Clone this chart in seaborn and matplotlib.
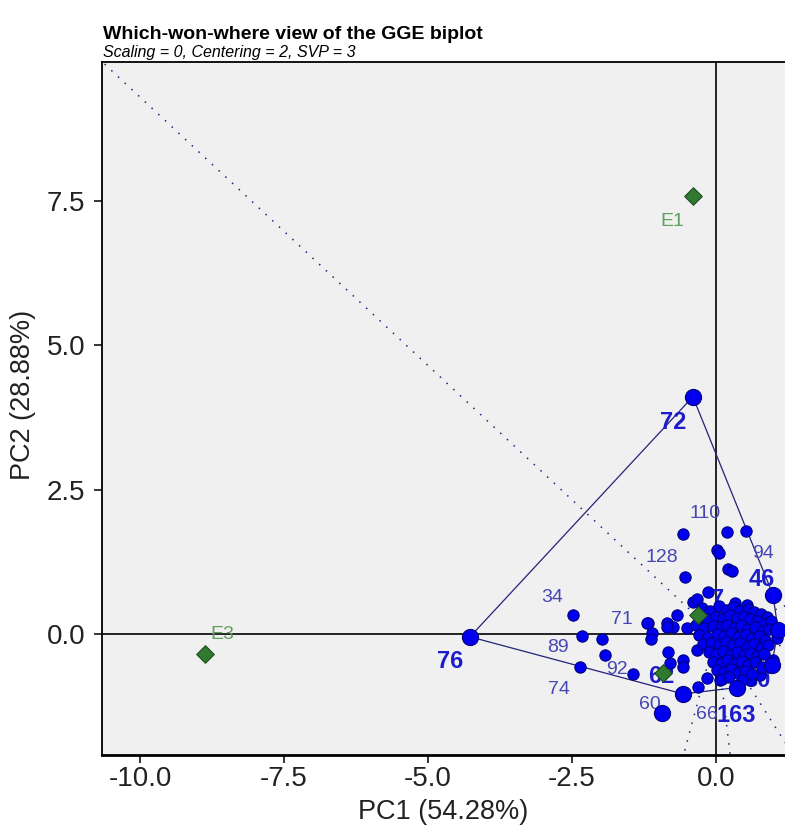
import numpy as np
import pandas as pd
import matplotlib
matplotlib.use("Agg")
import matplotlib.pyplot as plt
import seaborn as sns

# ---------------- data ----------------
# labelled genotypes (PC1, PC2)
geno_names = ["72", "76", "46", "45", "30", "163", "62", "110", "94", "128",
              "34", "71", "89", "74", "92", "60", "7", "66"]
geno_pc1 = [-0.40, -4.27, 0.99, 1.08, 0.97, 0.36, -0.57, 0.19, 0.52, -0.54,
            -2.48, -1.20, -2.33, -2.36, -1.44, -0.94, -0.14, -0.31]
geno_pc2 = [4.11, -0.05, 0.68, 0.07, -0.54, -0.93, -1.04, 1.76, 1.78, 0.99,
            0.33, 0.19, -0.03, -0.57, -0.69, -1.37, 0.73, -0.92]
# vertex genotypes (winners), in polygon order
hull_order = ["72", "46", "45", "30", "163", "62", "76"]
bold_labels = ["72", "76", "46", "30", "163", "62", "7"]

# other (unlabelled) genotypes
other_pc1 = [-0.57, 0.02, 0.05, 0.21, 0.28, -0.40, -0.68, -0.85, -1.18, -1.11, -1.13,
             -0.75, -0.50, -0.24, 1.06, 1.06, 0.99, 0.94, 0.76, 0.59, 0.07, -0.16,
             -0.33, -0.57, -0.57, -0.83, -1.98, -1.93, -0.33, -0.85, -0.80, 0.33, 0.54,
             -0.25, -0.10, 0.05, 0.18, 0.30, 0.42, 0.55, 0.66, 0.78, 0.88,
             -0.28, -0.15, 0.00, 0.12, 0.24, 0.36, 0.48, 0.60, 0.72, 0.84, 0.95,
             -0.35, -0.20, -0.05, 0.08, 0.20, 0.32, 0.44, 0.56, 0.68, 0.80, 0.92,
             -0.30, -0.15, 0.02, 0.14, 0.27, 0.38, 0.50, 0.62, 0.74, 0.86,
             -0.22, -0.08, 0.06, 0.18, 0.30, 0.42, 0.54, 0.66, 0.78, 0.90,
             -0.12, 0.00, 0.12, 0.24, 0.36, 0.48, 0.60, 0.72, 0.84,
             -0.05, 0.08, 0.20, 0.32, 0.44, 0.56, 0.68, 0.80,
             0.02, 0.14, 0.26, 0.38, 0.50, 0.62, 0.10, 0.22, 0.46]
other_pc2 = [1.73, 1.46, 1.40, 1.13, 1.09, 0.55, 0.33, 0.19, 0.19, 0.02, -0.09,
             0.12, 0.10, 0.07, 0.10, -0.07, -0.45, -0.57, -0.71, -0.80, -0.80, -0.76,
             -0.28, -0.45, -0.57, -0.31, -0.09, -0.36, 0.60, 0.12, -0.50, 0.54, 0.50,
             0.45, 0.40, 0.48, 0.42, 0.47, 0.40, 0.44, 0.38, 0.35, 0.30,
             0.30, 0.25, 0.30, 0.28, 0.33, 0.27, 0.30, 0.25, 0.22, 0.18, 0.22,
             0.15, 0.10, 0.14, 0.12, 0.16, 0.10, 0.15, 0.08, 0.12, 0.05, 0.08,
             -0.02, -0.05, 0.00, -0.03, 0.02, -0.06, -0.02, -0.07, -0.03, -0.10,
             -0.18, -0.15, -0.20, -0.14, -0.19, -0.16, -0.22, -0.18, -0.24, -0.20,
             -0.32, -0.35, -0.30, -0.36, -0.31, -0.37, -0.33, -0.39, -0.35,
             -0.48, -0.50, -0.46, -0.52, -0.47, -0.53, -0.49, -0.58,
             -0.62, -0.66, -0.61, -0.68, -0.64, -0.70, -0.78, -0.75, -0.79]

# environments
env_names = ["E1", "E2", "E3", "E4"]
env_pc1 = [-0.40, -0.31, -8.87, -0.92]
env_pc2 = [7.59, 0.33, -0.35, -0.68]

title = "Which-won-where view of the GGE biplot"
subtitle = "Scaling = 0, Centering = 2, SVP = 3"
xlab = "PC1 (54.28%)"
ylab = "PC2 (28.88%)"
xticks = [-10.0, -7.5, -5.0, -2.5, 0.0]
yticks = [0.0, 2.5, 5.0, 7.5]

# ---------------- style ----------------
sns.set_style("white")
plt.rcParams["font.family"] = ["Liberation Sans", "DejaVu Sans"]

label_offsets = {  # pixels (dx, dy up)
    "72": (-20, -26), "76": (-20, -25), "46": (-11, 15), "30": (-14, -15),
    "163": (0, -28), "62": (-22, 17), "110": (-22, 19), "94": (17, -22),
    "128": (-23, 19), "34": (-21, 17), "71": (-25, 3), "89": (-24, -12),
    "74": (-21, -23), "92": (-16, 4), "60": (-12, 8), "7": (10, -8), "66": (9, -27),
}
env_offsets = {"E1": (-21, -26), "E3": (17, 20)}

point_col = "#0000ee"
edge_col = "#000080"
plain_lab = "#4646b4"
bold_lab = "#1c1ccc"
env_col = "#2f7a2f"
env_lab = "#5f9f5f"
line_col = "#23237a"

fig = plt.figure(figsize=(7.85, 8.39), dpi=100)
ax = fig.add_axes([0.130, 0.100, 0.870, 0.826])
ax.set_facecolor("#f0f0f0")
XMIN, XMAX, YMIN, YMAX = -10.66, 1.20, -2.10, 9.91
ax.set_xlim(XMIN, XMAX)
ax.set_ylim(YMIN, YMAX)

# axes through origin
ax.axhline(0, color="black", lw=1.2, zorder=1)
ax.axvline(0, color="black", lw=1.2, zorder=1)

geno = pd.DataFrame({"name": geno_names, "PC1": geno_pc1, "PC2": geno_pc2})
gidx = geno.set_index("name")
hull = gidx.loc[hull_order + [hull_order[0]]]

# hull polygon
sns.lineplot(x=hull["PC1"].values, y=hull["PC2"].values, sort=False, ax=ax,
             color=line_col, lw=0.9, zorder=2, estimator=None)

# perpendicular rays from origin to each hull edge
L = 30
for i in range(len(hull_order)):
    a = gidx.loc[hull_order[i]]
    b = gidx.loc[hull_order[(i + 1) % len(hull_order)]]
    n = np.array([a["PC2"] - b["PC2"], b["PC1"] - a["PC1"]])
    if n @ np.array([a["PC1"], a["PC2"]]) < 0:
        n = -n
    n = n / np.linalg.norm(n)
    ax.plot([0, n[0] * L], [0, n[1] * L], color=line_col, lw=1.1,
            linestyle=(0, (1, 5)), zorder=2)

# labels (drawn beneath points)
for nm, x, y in zip(geno_names, geno_pc1, geno_pc2):
    if nm not in label_offsets:
        continue
    isb = nm in bold_labels
    ax.annotate(nm, (x, y), xytext=label_offsets[nm], textcoords="offset pixels",
                ha="center", va="center", fontsize=17 if isb else 14,
                fontweight="bold" if isb else "normal",
                color=bold_lab if isb else plain_lab, zorder=3)

others = pd.DataFrame({"PC1": other_pc1, "PC2": other_pc2})
sns.scatterplot(data=others, x="PC1", y="PC2", ax=ax, s=66, color=point_col,
                edgecolor=edge_col, linewidth=0.8, zorder=4, legend=False)
small_named = geno[~geno["name"].isin(hull_order) & (geno["name"] != "60")]
sns.scatterplot(data=small_named, x="PC1", y="PC2", ax=ax, s=66, color=point_col,
                edgecolor=edge_col, linewidth=0.8, zorder=4, legend=False)
big_named = geno[geno["name"].isin(hull_order + ["60"])]
sns.scatterplot(data=big_named, x="PC1", y="PC2", ax=ax, s=135, color=point_col,
                edgecolor=edge_col, linewidth=0.8, zorder=4, legend=False)

env = pd.DataFrame({"name": env_names, "PC1": env_pc1, "PC2": env_pc2})
sns.scatterplot(data=env, x="PC1", y="PC2", ax=ax, s=80, marker="D", color=env_col,
                edgecolor="#1d4d1d", linewidth=0.8, zorder=5, legend=False)
for nm, x, y in zip(env_names, env_pc1, env_pc2):
    if nm in env_offsets:
        ax.annotate(nm, (x, y), xytext=env_offsets[nm], textcoords="offset pixels",
                    ha="center", va="center", fontsize=14, color=env_lab, zorder=3)

# spines / ticks
for s in ["left", "bottom", "top"]:
    ax.spines[s].set_visible(True)
    ax.spines[s].set_color("black")
ax.spines["left"].set_linewidth(1.3)
ax.spines["top"].set_linewidth(1.3)
ax.spines["bottom"].set_linewidth(2.0)
ax.spines["right"].set_visible(False)
ax.set_xticks(xticks)
ax.set_yticks(yticks)
ax.set_xticklabels([f"{v:.1f}" for v in xticks])
ax.set_yticklabels([f"{v:.1f}" for v in yticks])
ax.tick_params(axis="both", direction="out", length=6, width=1.1, color="black",
               labelsize=20, labelcolor="#222222", left=True, bottom=True)
ax.tick_params(axis="x", pad=2)
ax.tick_params(axis="y", pad=6)
ax.set_xlabel(xlab, fontsize=19.5, color="#222222", labelpad=5)
ax.set_ylabel(ylab, fontsize=19.5, color="#222222")
ax.yaxis.set_label_coords(-0.097, 0.52)

fig.text(103 / 785, 1 - 39 / 839, title, fontsize=14, fontweight="bold",
         ha="left", va="baseline", color="black")
fig.text(103 / 785, 1 - 57 / 839, subtitle, fontsize=11.5, fontstyle="italic",
         ha="left", va="baseline", color="black")

fig.savefig("out.png", dpi=100)
